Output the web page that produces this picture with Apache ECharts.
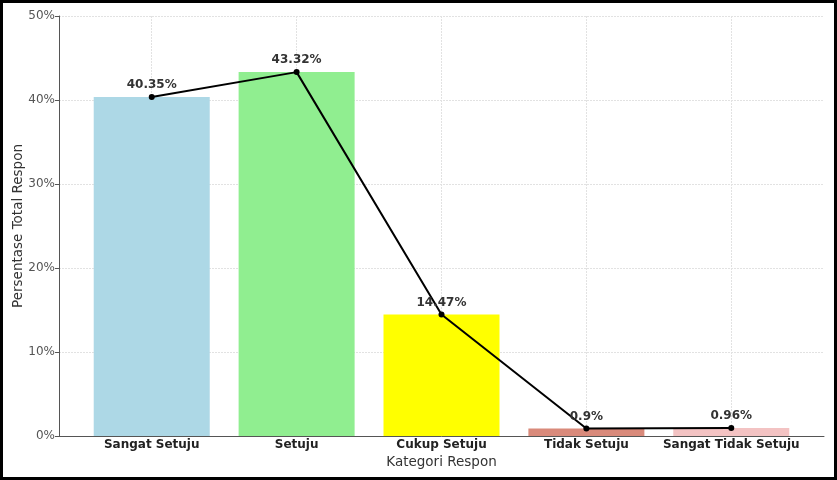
<!DOCTYPE html>
<html>
<head>
<meta charset="utf-8">
<script src="https://cdn.jsdelivr.net/npm/echarts@6/dist/echarts.min.js"></script>
<style>
html,body{margin:0;padding:0;background:#fff;}
#chart{width:837px;height:480px;}
</style>
</head>
<body>
<div id="chart"></div>
<script>
const categories = ["Sangat Setuju", "Setuju", "Cukup Setuju", "Tidak Setuju", "Sangat Tidak Setuju"];
const percentages = [40.35, 43.32, 14.47, 0.9, 0.96];
const barColors = ["#add8e6", "#90ee90", "#ffff00", "#d98a7b", "#f3c3c3"];
const yTicks = [0, 10, 20, 30, 40, 50];

const positions = categories.map((c, i) => i);
const barData = percentages.map((v, i) => ({value: [positions[i], v], itemStyle: {color: barColors[i]}}));
const lineData = percentages.map((v, i) => [positions[i], v]);

const chart = echarts.init(document.getElementById('chart'), null, {renderer: 'canvas'});
const FONT = 'DejaVu Sans';
chart.setOption({
  animation: false,
  backgroundColor: '#fff',
  grid: {left: 59, right: 13, top: 16, bottom: 44, containLabel: false, outerBoundsMode: 'none'},
  xAxis: {
    type: 'value',
    min: -0.64, max: 4.64,
    name: 'Kategori Respon',
    nameLocation: 'middle',
    nameGap: 19,
    nameMoveOverlap: false,
    nameTextStyle: {fontFamily: FONT, fontSize: 13.5, color: '#333'},
    axisLine: {show: true, onZero: false, lineStyle: {color: '#555', width: 1}},
    axisTick: {show: true, customValues: positions, length: 3, inside: true, lineStyle: {color: '#555'}},
    axisLabel: {
      customValues: positions,
      margin: 3,
      fontFamily: FONT, fontSize: 12, fontWeight: 'bold', color: '#222',
      formatter: v => categories[Math.round(v)] || ''
    },
    splitLine: {show: true, lineStyle: {color: '#e2e2e2', width: 1, type: [2, 1]}}
  },
  yAxis: {
    type: 'value',
    min: 0, max: 50, interval: 10,
    name: 'Persentase Total Respon',
    nameLocation: 'middle',
    nameGap: 34,
    nameMoveOverlap: false,
    nameTextStyle: {fontFamily: FONT, fontSize: 13.5, color: '#333'},
    axisLine: {show: true, onZero: false, lineStyle: {color: '#555', width: 1}},
    axisTick: {show: true, length: 4, lineStyle: {color: '#555'}},
    axisLabel: {fontFamily: FONT, fontSize: 12, color: '#555', margin: 4, formatter: v => yTicks.includes(v) ? v + '%' : ''},
    splitLine: {show: true, lineStyle: {color: '#e2e2e2', width: 1, type: [2, 1]}}
  },
  series: [
    {
      type: 'bar',
      data: barData,
      barWidth: 116,
      z: 2
    },
    {
      type: 'line',
      data: lineData,
      symbol: 'circle',
      symbolSize: 6,
      lineStyle: {color: '#000', width: 2},
      itemStyle: {color: '#000'},
      z: 3,
      label: {
        show: true, position: 'top', distance: 3,
        fontFamily: FONT, fontSize: 12, fontWeight: 'bold', color: '#333',
        formatter: p => p.value[1] + '%'
      }
    }
  ],
  graphic: [{
    type: 'rect',
    shape: {x: 1.5, y: 1.5, width: 834, height: 477},
    style: {fill: 'none', stroke: '#000', lineWidth: 3},
    silent: true, z: 100
  }]
});
</script>
</body>
</html>
